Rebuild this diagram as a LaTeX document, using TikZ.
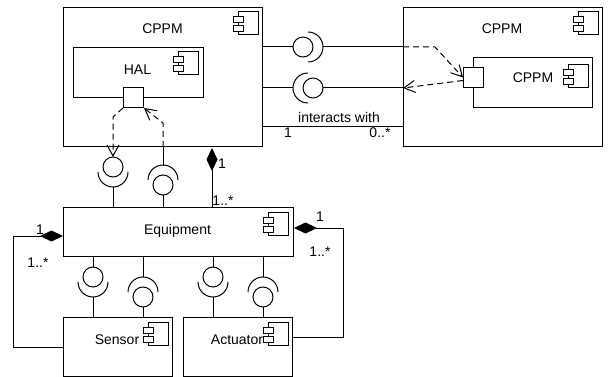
\documentclass[tikz,border=0pt]{standalone}
\usepackage{fontspec}
\setmainfont{Liberation Sans}
\usetikzlibrary{arrows.meta,calc}
\begin{document}
\begin{tikzpicture}[x=1pt,y=-1pt,line width=1pt,
  box/.style={draw,fill=white,inner sep=0pt,anchor=north west},
  txt/.style={inner sep=0pt,anchor=base,font=\fontsize{14}{16}\selectfont},
  dep/.style={dash pattern=on 6pt off 4pt,-{Straight Barb[length=11pt,width=12pt]}},
  comp/.style={-{Diamond[length=23pt,width=11pt]}},
  compicon/.pic={
    \draw[fill=white] (-20,0) rectangle (0,23);
    \draw[fill=white] (-25,5) rectangle (-15,11);
    \draw[fill=white] (-25,14) rectangle (-15,20);
  },
  ballbelow/.pic={ % ball with socket arc below it (pixel down)
    \draw[fill=white] (0,0) circle[radius=10pt];
    \draw (-15,5) arc[start angle=180,end angle=360,radius=15pt];
  },
  ballabove/.pic={ % socket arc above the ball
    \draw[fill=white] (0,0) circle[radius=10pt];
    \draw (-15,-5) arc[start angle=180,end angle=0,radius=15pt];
  },
  ballright/.pic={ % socket arc on the right
    \draw[fill=white] (0,0) circle[radius=10pt];
    \draw (5,-15) arc[start angle=90,end angle=-90,radius=15pt];
  },
  ballleft/.pic={ % socket arc on the left
    \draw[fill=white] (0,0) circle[radius=10pt];
    \draw (-5,-15) arc[start angle=90,end angle=270,radius=15pt];
  }
]
\path[use as bounding box] (0,0) rectangle (608,377);

% boxes
\node[box,minimum width=199pt,minimum height=139pt] (cppmL) at (63,7) {};
\node[box,minimum width=130pt,minimum height=50pt] (hal) at (73,47) {};
\node[box,minimum width=20pt,minimum height=20pt] (halport) at (123,87) {};
\node[box,minimum width=199pt,minimum height=139pt] (cppmR) at (403,7) {};
\node[box,minimum width=119pt,minimum height=50pt] (cppmIn) at (473,57) {};
\node[box,minimum width=20pt,minimum height=20pt] (cppmport) at (463,67) {};
\node[box,minimum width=230pt,minimum height=49pt] (equip) at (63,207) {};
\node[box,minimum width=109pt,minimum height=59pt] (sensor) at (63,317) {};
\node[box,minimum width=109pt,minimum height=59pt] (actuator) at (183,317) {};

% component icons
\pic at (258,12) {compicon};
\pic at (198,52) {compicon};
\pic at (598,12) {compicon};
\pic at (588,65) {compicon};
\pic at (288,212) {compicon};
\pic at (168,322) {compicon};
\pic at (288,322) {compicon};

% labels
\node[txt] (tcppmL) at (162.5,34) {CPPM};
\node[txt] (thal) at (137.5,75) {HAL};
\node[txt] (tcppmR) at (502,34) {CPPM};
\node[txt] (tcppmIn) at (533,83) {CPPM};
\node[txt] (tequip) at (177.5,234) {Equipment};
\node[txt] (tsensor) at (117,344) {Sensor};
\node[txt] (tact) at (237,344) {Actuator};
\node[txt] (tinter) at (339,123) {interacts with};
\node[txt] (tm1) at (288,138) {1};
\node[txt] (tm2) at (380,138) {0..*};
\node[txt] (tm3) at (222,169) {1};
\node[txt] (tm4) at (223,205) {1..*};
\node[txt] (tm5) at (40,234) {1};
\node[txt] (tm6) at (38,267) {1..*};
\node[txt] (tm7) at (320,222) {1};
\node[txt] (tm8) at (320,256) {1..*};

% CPPM to CPPM interfaces
\draw (cppmL.east |- 0,47) -- (293,47);
\pic at (303,47) {ballright};
\draw (323,47) -- (cppmR.west |- 0,47);
\draw (cppmL.east |- 0,88) -- (293,88);
\pic at (313,88) {ballleft};
\draw (323,88) -- (cppmR.west |- 0,88);
\draw (cppmL.east |- 0,127) -- (cppmR.west |- 0,127);

% dependencies at right CPPM
\draw[dep] (cppmR.west |- 0,47) -- (435,47) -- (cppmport.west);
\draw[dep] ($(cppmport.west)+(0,3)$) -- (cppmR.west |- 0,88);

% CPPM / Equipment interfaces
\pic at (113,167) {ballbelow};
\draw (113,187) -- (equip.north -| 113,0);
\draw (cppmL.south -| 163,0) -- (163,166);
\pic at (163,185) {ballabove};
\draw (163,195) -- (equip.north -| 163,0);
\draw[dep] (halport.south west) -- (113,117) -- (113,157);
\draw[dep] (cppmL.south -| 163,0) -- (163,123) -- (halport.south east);

% composition
\draw[comp] (equip.north -| 212,0) -- ($(cppmL.south -| 212,0)+(0,1)$);
\draw[comp] (sensor.west |- 0,347) -| (13,236) -- (equip.west |- 0,236);
\draw[comp] (actuator.east |- 0,337) -| (343,228) -- (equip.east |- 0,228);

% Equipment / Sensor, Actuator interfaces
\foreach \x/\tgt in {93/sensor,213/actuator}{
  \draw (equip.south -| \x,0) -- (\x,267);
  \pic at (\x,277) {ballbelow};
  \draw (\x,297) -- (\tgt.north -| \x,0);
}
\foreach \x/\tgt in {143/sensor,263/actuator}{
  \draw (equip.south -| \x,0) -- (\x,277);
  \pic at (\x,297) {ballabove};
  \draw (\x,307) -- (\tgt.north -| \x,0);
}
\end{tikzpicture}
\end{document}
